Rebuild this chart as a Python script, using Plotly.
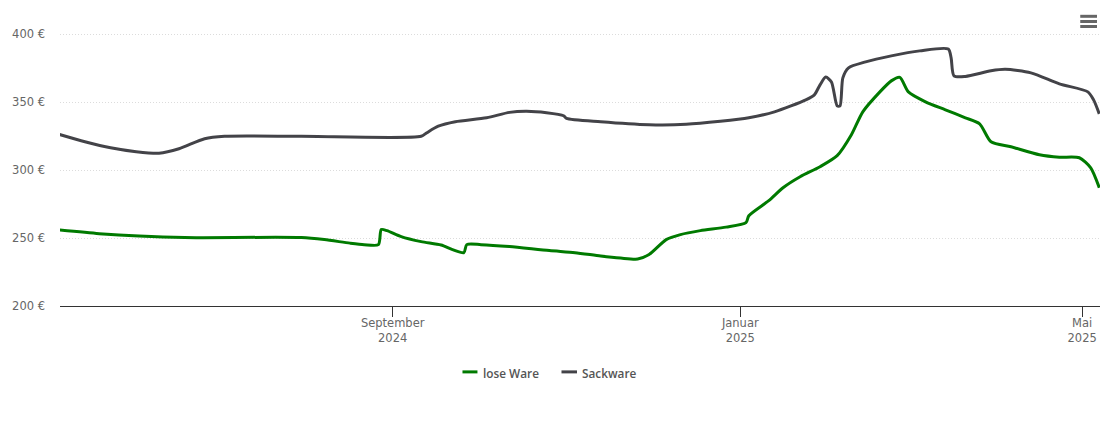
import plotly.graph_objects as go

# prices, euro per date
lose_dates = ["2024-05-07", "2024-05-21", "2024-06-04", "2024-06-20", "2024-07-31", "2024-08-08", "2024-08-17",
              "2024-08-22", "2024-08-27", "2024-08-28", "2024-08-30", "2024-09-04", "2024-09-11", "2024-09-18",
              "2024-09-22", "2024-09-26", "2024-09-27", "2024-10-02", "2024-10-12", "2024-10-26", "2024-11-04",
              "2024-11-13", "2024-11-20", "2024-11-26", "2024-11-30", "2024-12-06", "2024-12-11", "2024-12-18",
              "2024-12-27", "2025-01-03", "2025-01-04", "2025-01-11", "2025-01-16", "2025-01-22", "2025-01-29",
              "2025-02-04", "2025-02-09", "2025-02-13", "2025-02-19", "2025-02-23", "2025-02-26", "2025-03-01",
              "2025-03-07", "2025-03-14", "2025-03-21", "2025-03-26", "2025-03-30", "2025-04-06", "2025-04-16",
              "2025-04-23", "2025-04-30", "2025-05-04", "2025-05-07"]
lose_values = [256.0, 253.3, 251.5, 250.4, 250.4, 248.9, 246.3, 245.2, 245.2, 256.3, 255.5, 251.1, 247.4, 244.9,
               241.5, 239.3, 245.2, 245.2, 243.8, 240.8, 239.3, 236.8, 235.3, 234.6, 237.9, 248.9, 252.6, 255.5,
               258.1, 261.4, 266.5, 277.6, 287.1, 295.2, 302.6, 310.7, 326.1, 343.0, 357.7, 365.8, 368.4, 357.7,
               350.4, 344.5, 338.6, 334.2, 321.0, 317.3, 311.4, 309.6, 309.2, 301.8, 287.1]

sack_dates = ["2024-05-07", "2024-05-16", "2024-05-25", "2024-06-03", "2024-06-11", "2024-06-18", "2024-06-27",
              "2024-07-04", "2024-07-31", "2024-09-11", "2024-09-13", "2024-09-17", "2024-09-23", "2024-10-04",
              "2024-10-12", "2024-10-18", "2024-10-25", "2024-10-31", "2024-11-01", "2024-11-13", "2024-11-30",
              "2024-12-13", "2024-12-25", "2025-01-04", "2025-01-13", "2025-01-24", "2025-01-27", "2025-01-29",
              "2025-01-31", "2025-02-02", "2025-02-04", "2025-02-05", "2025-02-06", "2025-02-08", "2025-02-14",
              "2025-02-23", "2025-03-05", "2025-03-15", "2025-03-16", "2025-03-17", "2025-03-21", "2025-03-30",
              "2025-04-04", "2025-04-13", "2025-04-23", "2025-05-03", "2025-05-05", "2025-05-07"]
sack_values = [326.4, 321.0, 316.5, 313.6, 312.5, 315.8, 323.2, 325.0, 325.0, 325.0, 327.6, 332.4, 335.7, 338.6,
               342.6, 343.4, 342.3, 340.1, 338.2, 335.7, 333.5, 333.8, 336.0, 338.6, 343.0, 351.8, 355.5, 362.9,
               368.6, 365.0, 347.4, 347.4, 368.0, 375.4, 379.8, 384.2, 387.9, 389.3, 382.7, 369.5, 369.1, 373.2,
               374.3, 371.7, 363.6, 357.7, 351.8, 341.5]

x_tick_dates = ["2024-09-01", "2025-01-01", "2025-05-01"]
x_tick_labels = ["September<br>2024", "Januar<br>2025", "Mai<br>2025"]
y_ticks = [200, 250, 300, 350, 400]
y_tick_labels = ["200 €", "250 €", "300 €", "350 €", "400 €"]

FONT = "DejaVu Sans"
GREEN = "#007a00"
GREY = "#434348"

fig = go.Figure()
fig.add_trace(go.Scatter(x=lose_dates, y=lose_values, name="lose Ware", mode="lines",
                         line=dict(color=GREEN, width=3, shape="spline", smoothing=0.7)))
fig.add_trace(go.Scatter(x=sack_dates, y=sack_values, name="Sackware", mode="lines",
                         line=dict(color=GREY, width=3, shape="spline", smoothing=0.7)))

fig.update_layout(
    width=1110,
    height=423,
    margin=dict(l=60, r=10, t=10, b=116.5),
    paper_bgcolor="white",
    plot_bgcolor="white",
    showlegend=False,
    font=dict(family=FONT, size=11.5, color="#666666"),
)
fig.update_xaxes(
    type="date",
    range=["2024-05-07 06:00", "2025-05-07 06:00"],
    tickmode="array",
    tickvals=x_tick_dates,
    ticktext=x_tick_labels,
    ticks="outside",
    ticklen=10,
    tickcolor="#333333",
    ticklabelstandoff=-4,
    showline=True,
    linecolor="#333333",
    linewidth=1,
    showgrid=False,
    zeroline=False,
)
fig.update_yaxes(
    range=[200, 418],
    tickmode="array",
    tickvals=y_ticks,
    ticktext=y_tick_labels,
    ticks="",
    ticklabelstandoff=14,
    showline=False,
    zeroline=False,
    gridcolor="#dcdcdc",
    griddash="1px,2px",
    gridwidth=1,
)

# legend keys are short dashes in the original, shorter than plotly's own legend can draw
for trace, key_x0, key_x1, text_x in [(fig.data[0], 0.387, 0.4014, 0.4058), (fig.data[1], 0.4822, 0.4971, 0.5010)]:
    fig.add_shape(type="line", xref="paper", yref="paper", x0=key_x0, x1=key_x1, y0=-0.2226, y1=-0.2226,
                  line=dict(color=trace.line.color, width=3))
    fig.add_annotation(text=trace.name, xref="paper", yref="paper", x=text_x, y=-0.2277,
                       xanchor="left", yanchor="middle", showarrow=False, borderpad=0,
                       font=dict(family="Open Sans", size=11.8, color="#555555", weight=600))

# menu icon in the top right corner
for y_pos in [0.9787, 0.9612, 0.9443]:
    fig.add_shape(type="line", xref="paper", yref="paper", x0=0.981, x1=0.9971, y0=y_pos, y1=y_pos,
                  line=dict(color="#666666", width=3))

fig.write_html("out.html", config={"displayModeBar": False},
               post_script="document.body.style.margin = '0';")
